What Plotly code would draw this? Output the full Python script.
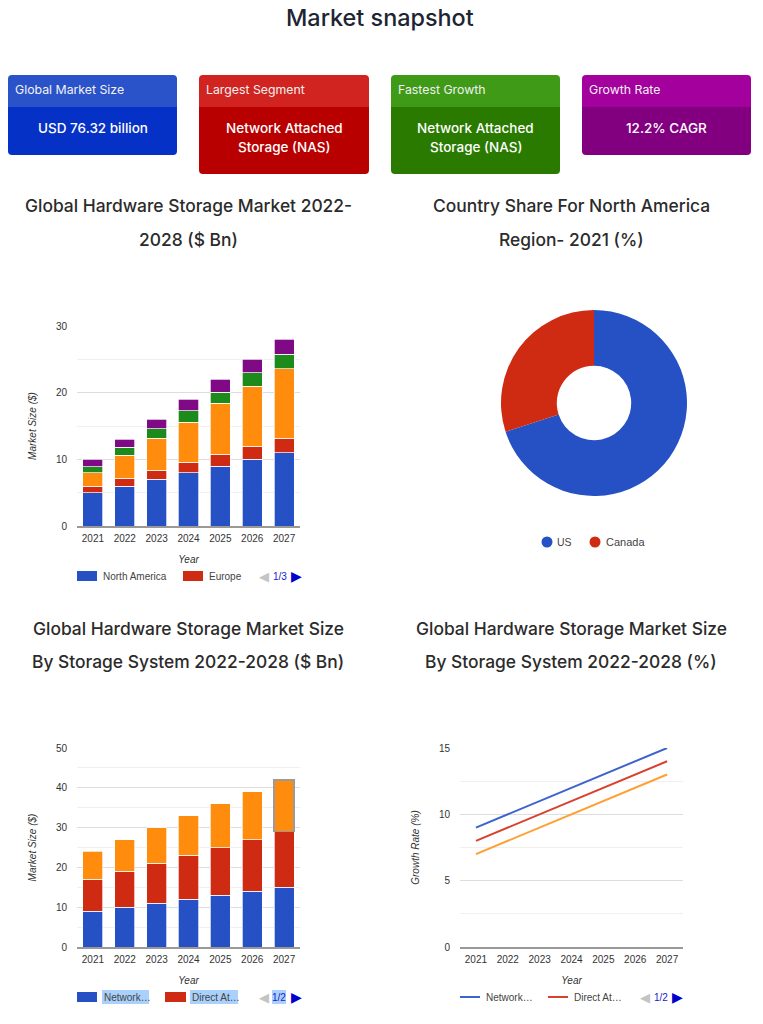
import plotly.graph_objects as go
from plotly.subplots import make_subplots

W = 763
H = 1024

years = ["2021", "2022", "2023", "2024", "2025", "2026", "2027"]

# regional market size
north_america = [5, 6, 7, 8, 9, 10, 11]
europe = [1, 1.2, 1.4, 1.6, 1.8, 2, 2.2]
asia_pacific = [2, 3.4, 4.8, 6, 7.6, 9, 10.4]
latin_america = [0.9, 1.2, 1.4, 1.7, 1.7, 2, 2.2]
middle_east = [1.1, 1.2, 1.4, 1.7, 1.9, 2, 2.2]

# country share
countries = ["US", "Canada"]
country_share = [70, 30]

# by storage system
nas_size = [9, 10, 11, 12, 13, 14, 15]
das_size = [8, 9, 10, 11, 12, 13, 14]
san_size = [7, 8, 9, 10, 11, 12, 13]

# growth rate
nas_rate = [9, 10, 11, 12, 13, 14, 15]
das_rate = [8, 9, 10, 11, 12, 13, 14]
san_rate = [7, 8, 9, 10, 11, 12, 13]

BLUE = "#2651c4"
RED = "#cf2a12"
ORANGE = "#ff8c0c"
GREEN = "#1d8a1c"
PURPLE = "#800a85"
LINE_BLUE = "#3f63cc"
LINE_RED = "#d9412f"
LINE_ORANGE = "#ffa033"

TITLE_FONT = "Inter"
CHART_FONT = "Liberation Sans"


def px(x):
    return x / W


def py(y):
    return 1 - y / H


def note(x, y, text, size=10, color="#444444", anchor="center", family=CHART_FONT, weight=None):
    fig.add_annotation(x=px(x), y=py(y), xref="paper", yref="paper", text=text, showarrow=False,
                       xanchor=anchor, yanchor="middle",
                       font=dict(family=family, size=size, color=color, weight=weight))


def box(x0, y0, x1, y1, color):
    fig.add_shape(type="rect", xref="paper", yref="paper", x0=px(x0), x1=px(x1), y0=py(y0), y1=py(y1),
                  fillcolor=color, line_width=0, layer="below")


def card(x0, x1, y1, head, body, head_color, body_color):
    # header and body are separate paths so both keep their own corners
    y0, ym, r = 75, 107, 4
    top = (f"M{px(x0)},{py(ym)} L{px(x0)},{py(y0 + r)} Q{px(x0)},{py(y0)} {px(x0 + r)},{py(y0)} "
           f"L{px(x1 - r)},{py(y0)} Q{px(x1)},{py(y0)} {px(x1)},{py(y0 + r)} L{px(x1)},{py(ym)} Z")
    bottom = (f"M{px(x0)},{py(ym)} L{px(x0)},{py(y1 - r)} Q{px(x0)},{py(y1)} {px(x0 + r)},{py(y1)} "
              f"L{px(x1 - r)},{py(y1)} Q{px(x1)},{py(y1)} {px(x1)},{py(y1 - r)} L{px(x1)},{py(ym)} Z")
    fig.add_shape(type="path", xref="paper", yref="paper", path=top, fillcolor=head_color, line_width=0)
    fig.add_shape(type="path", xref="paper", yref="paper", path=bottom, fillcolor=body_color, line_width=0)
    note(x0 + 5, 89, head, size=12.3, color="#f2f2f2", anchor="left", family=TITLE_FONT)
    for i, line in enumerate(body):
        note((x0 + x1) / 2, 128 + i * 19, line, size=13.5, color="white", family=TITLE_FONT, weight=500)


def pager(x_left, x_text, x_right, y, text):
    note(x_left, y, "◀", size=13, color="#c4c4c4", family="DejaVu Sans")
    note(x_text, y, text, size=10, color="#1a1acc")
    note(x_right, y, "▶", size=14, color="#0000cc", family="DejaVu Sans")


fig = make_subplots(rows=2, cols=2, specs=[[{"type": "xy"}, {"type": "domain"}], [{"type": "xy"}, {"type": "xy"}]])

# top left, stacked by region
for name, vals, col in [("North America", north_america, BLUE), ("Europe", europe, RED),
                        ("Asia Pacific", asia_pacific, ORANGE), ("Latin America", latin_america, GREEN),
                        ("Middle East", middle_east, PURPLE)]:
    fig.add_trace(go.Bar(x=years, y=vals, name=name, marker=dict(color=col, line=dict(color="white", width=0.7))),
                  row=1, col=1)

# no row/col here, make_subplots would overwrite the domain
fig.add_trace(go.Pie(labels=countries, values=country_share, hole=0.4, sort=False, direction="clockwise",
                     rotation=0, textinfo="none", marker=dict(colors=[BLUE, RED]),
                     domain=dict(x=[px(501), px(687)], y=[py(496), py(310)])))

# bottom left, 2027 orange bar has the grey hover outline
outline = ["white"] * 6 + ["#9a9a9a"]
widths = [0.7] * 6 + [1.5]
fig.add_trace(go.Bar(x=years, y=nas_size, name="Network Attached Storage",
                     marker=dict(color=BLUE, line=dict(color="white", width=0.7))), row=2, col=1)
fig.add_trace(go.Bar(x=years, y=das_size, name="Direct Attached Storage",
                     marker=dict(color=RED, line=dict(color="white", width=0.7))), row=2, col=1)
fig.add_trace(go.Bar(x=years, y=san_size, name="Storage Area Network",
                     marker=dict(color=ORANGE, line=dict(color=outline, width=widths))), row=2, col=1)

for name, vals, col in [("Network Attached Storage", nas_rate, LINE_BLUE), ("Direct Attached Storage", das_rate, LINE_RED),
                        ("Storage Area Network", san_rate, LINE_ORANGE)]:
    fig.add_trace(go.Scatter(x=years, y=vals, name=name, mode="lines", line=dict(color=col, width=2)), row=2, col=2)

fig.update_layout(width=W, height=H, margin=dict(l=0, r=0, t=0, b=0), barmode="stack", bargap=0.37,
                  showlegend=False, paper_bgcolor="white", plot_bgcolor="white")

axis_font = dict(family=CHART_FONT, size=10, color="#333333")
title_font = dict(family=CHART_FONT, size=10, color="#333333", style="italic")


def style_axes(row, col, x0, x1, y0, y1, ytitle, ymax, major, minor):
    # same band layout for bars and lines, points sit in the middle of each category
    fig.update_xaxes(row=row, col=col, domain=[px(x0), px(x1)], type="category", range=[-0.5, 6.5], showgrid=False,
                     showline=True, automargin=False, linecolor="#999999", linewidth=1.5, tickfont=axis_font,
                     ticks="outside", ticklen=2, tickcolor="rgba(0,0,0,0)",
                     title=dict(text="Year", font=title_font, standoff=13))
    fig.update_yaxes(row=row, col=col, domain=[py(y1), py(y0)], range=[0, ymax], dtick=major, showline=False,
                     automargin=False, gridcolor="#dddddd", gridwidth=1, zeroline=False, tickfont=axis_font,
                     ticks="outside", ticklen=7, tickcolor="rgba(0,0,0,0)",
                     minor=dict(dtick=minor, showgrid=True, gridcolor="#f0f0f0"),
                     title=dict(text=ytitle, font=title_font, standoff=17))


style_axes(1, 1, 77, 300, 326, 526, "Market Size ($)", 30, 10, 5)
style_axes(2, 1, 77, 300, 748, 947, "Market Size ($)", 50, 10, 5)
style_axes(2, 2, 460, 683, 748, 947, "Growth Rate (%)", 15, 5, 2.5)

# headings
note(380, 17, "Market snapshot", size=23.4, color="#1d2433", family=TITLE_FONT, weight=500)
for cx, cy, line in [(188, 205, "Global Hardware Storage Market 2022-"), (188, 239, "2028 ($ Bn)"),
                     (571, 205, "Country Share For North America"), (571, 239, "Region- 2021 (%)"),
                     (188, 628, "Global Hardware Storage Market Size"), (188, 661, "By Storage System 2022-2028 ($ Bn)"),
                     (571, 628, "Global Hardware Storage Market Size"), (571, 661, "By Storage System 2022-2028 (%)")]:
    note(cx, cy, line, size=17.4, color="#2b2b2b", family=TITLE_FONT, weight=500)

# kpi cards
card(8, 177, 155, "Global Market Size", ["USD 76.32 billion"], "#2a52c9", "#0631c6")
card(199, 369, 174, "Largest Segment", ["Network Attached", "Storage (NAS)"], "#d12420", "#b80000")
card(391, 560, 174, "Fastest Growth", ["Network Attached", "Storage (NAS)"], "#3f9a18", "#2a7a00")
card(582, 751, 155, "Growth Rate", ["12.2% CAGR"], "#a3009e", "#820080")

# legend of the first chart, it only shows the first page
box(77, 571, 97, 581, BLUE)
note(101, 576, "North America", size=10, anchor="left")
box(183, 571, 203, 581, RED)
note(207, 576, "Europe", size=10, anchor="left")
pager(264, 280, 296, 576, "1/3")

# donut legend
for cx, col in [(547, BLUE), (595, RED)]:
    fig.add_shape(type="circle", xref="paper", yref="paper", x0=px(cx - 5.5), x1=px(cx + 5.5),
                  y0=py(547.5), y1=py(536.5), fillcolor=col, line_width=0)
note(555, 542, "US", size=10.5, anchor="left")
note(604, 542, "Canada", size=11, anchor="left")

# legend of bottom left chart, selected labels have the blue highlight
box(77, 992, 97, 1002, BLUE)
box(102, 990, 149, 1004, "#a9d1fb")
note(102, 997, "Network…", size=10, anchor="left")
box(165, 992, 186, 1002, RED)
box(190, 990, 238, 1004, "#a9d1fb")
note(190, 997, "Direct At…", size=10, anchor="left")
box(272, 990, 286, 1004, "#a9d1fb")
pager(264, 279, 296, 997, "1/2")

# legend of line chart
for x0, x1, col in [(460, 480, LINE_BLUE), (548, 568, LINE_RED)]:
    fig.add_shape(type="line", xref="paper", yref="paper", x0=px(x0), x1=px(x1), y0=py(997), y1=py(997),
                  line=dict(color=col, width=2))
note(484, 997, "Network…", size=10, anchor="left")
note(572, 997, "Direct At…", size=10, anchor="left")
pager(645, 661, 677, 997, "1/2")

fig.write_html("out.html", config={"displayModeBar": False}, post_script="document.body.style.margin='0';")
